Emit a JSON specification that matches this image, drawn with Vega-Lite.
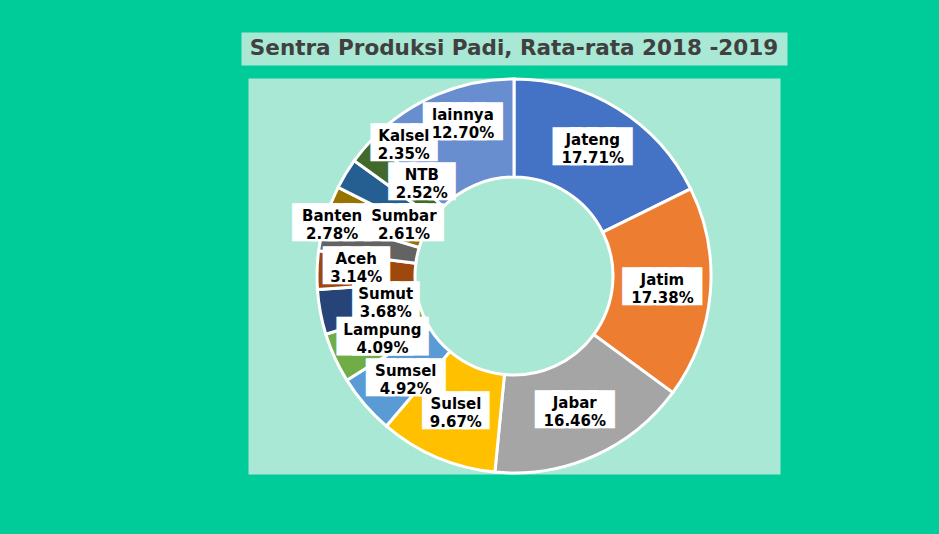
{
  "$schema": "https://vega.github.io/schema/vega-lite/v6.json",
  "background": "#00CC99",
  "padding": {"left": 240, "top": 31, "right": 153, "bottom": 61},
  "spacing": 13,
  "center": true,
  "bounds": "flush",
  "config": {"view": {"stroke": "transparent", "fill": "#A8E8D4"}},
  "vconcat": [
    {
      "width": 546,
      "height": 33,
      "view": {"fill": "#A8E8D4", "stroke": "transparent"},
      "data": {"values": [{"title": "Sentra Produksi Padi, Rata-rata 2018 -2019"}]},
      "mark": {"type": "text", "font": "DejaVu Sans", "fontWeight": "bold", "fontSize": 21.5, "color": "#404040", "baseline": "middle"},
      "encoding": {"text": {"field": "title", "type": "nominal"}}
    },
    {
      "width": 532,
      "height": 396,
      "view": {"fill": "#A8E8D4", "stroke": "transparent"},
      "data": {"values": [
        {"name": "Jateng", "pct": 17.71, "idx": 1, "label": "Jateng\n17.71%"},
        {"name": "Jatim", "pct": 17.38, "idx": 2, "label": "Jatim\n17.38%"},
        {"name": "Jabar", "pct": 16.46, "idx": 3, "label": "Jabar\n16.46%"},
        {"name": "Sulsel", "pct": 9.67, "idx": 4, "label": "Sulsel\n9.67%"},
        {"name": "Sumsel", "pct": 4.92, "idx": 5, "label": "Sumsel\n4.92%"},
        {"name": "Lampung", "pct": 4.09, "idx": 6, "label": "Lampung\n4.09%"},
        {"name": "Sumut", "pct": 3.68, "idx": 7, "label": "Sumut\n3.68%"},
        {"name": "Aceh", "pct": 3.14, "idx": 8, "label": "Aceh\n3.14%"},
        {"name": "Sumbar", "pct": 2.61, "idx": 9, "label": "Sumbar\n2.61%"},
        {"name": "Banten", "pct": 2.78, "idx": 10, "label": "Banten\n2.78%"},
        {"name": "NTB", "pct": 2.52, "idx": 11, "label": "NTB\n2.52%"},
        {"name": "Kalsel", "pct": 2.35, "idx": 12, "label": "Kalsel\n2.35%"},
        {"name": "lainnya", "pct": 12.70, "idx": 13, "label": "lainnya\n12.70%"}
      ]},
      "encoding": {
        "theta": {"field": "pct", "type": "quantitative", "stack": true},
        "order": {"field": "idx", "type": "quantitative"}
      },
      "layer": [
        {
          "mark": {"type": "arc", "outerRadius": 197, "innerRadius": 99, "stroke": "white", "strokeWidth": 3},
          "encoding": {
            "color": {
              "field": "name", "type": "nominal", "legend": null,
              "scale": {
                "domain": ["Jateng", "Jatim", "Jabar", "Sulsel", "Sumsel", "Lampung", "Sumut", "Aceh", "Sumbar", "Banten", "NTB", "Kalsel", "lainnya"],
                "range": ["#4472C4", "#ED7D31", "#A5A5A5", "#FFC000", "#5B9BD5", "#70AD47", "#264478", "#9E480E", "#636363", "#997300", "#255E91", "#43682B", "#698ED0"]
              }
            }
          }
        },
        {
          "mark": {"type": "text", "radius": 149, "dy": -2, "font": "DejaVu Sans", "color": "white", "stroke": "white", "strokeJoin": "miter", "baseline": "middle"},
          "encoding": {
            "text": {"condition": [{"test": "datum.name === 'Sulsel'", "value": "███"}, {"test": "indexof(['Jateng','Jatim','Jabar'], datum.name) >= 0", "value": "████"}], "value": ""},
            "size": {"condition": {"test": "datum.name === 'Sulsel'", "value": 26}, "value": 22},
            "strokeWidth": {"condition": {"test": "datum.name === 'Sulsel'", "value": 7}, "value": 12}
          }
        },
        {
          "mark": {"type": "text", "radius": 160, "thetaOffset": 0.074, "dy": -2, "font": "DejaVu Sans", "fontSize": 22, "color": "white", "stroke": "white", "strokeWidth": 12, "strokeJoin": "miter", "baseline": "middle"},
          "encoding": {"text": {"condition": {"test": "datum.name === 'lainnya'", "value": "████"}, "value": ""}}
        },
        {
          "mark": {"type": "text", "radius": 171, "thetaOffset": 0.172, "dy": -2, "font": "DejaVu Sans", "fontSize": 26, "color": "white", "stroke": "white", "strokeWidth": 7, "strokeJoin": "miter", "baseline": "middle"},
          "encoding": {"text": {"condition": {"test": "datum.name === 'Kalsel'", "value": "███"}, "value": ""}}
        },
        {
          "mark": {"type": "text", "radius": 130, "thetaOffset": 0.236, "dy": -2, "font": "DejaVu Sans", "fontSize": 26, "color": "white", "stroke": "white", "strokeWidth": 7, "strokeJoin": "miter", "baseline": "middle"},
          "encoding": {"text": {"condition": {"test": "datum.name === 'NTB'", "value": "███"}, "value": ""}}
        },
        {
          "mark": {"type": "text", "radius": 189, "thetaOffset": -0.104, "dy": -2, "font": "DejaVu Sans", "fontSize": 22, "color": "white", "stroke": "white", "strokeWidth": 12, "strokeJoin": "miter", "baseline": "middle"},
          "encoding": {"text": {"condition": {"test": "datum.name === 'Banten'", "value": "████"}, "value": ""}}
        },
        {
          "mark": {"type": "text", "radius": 121.5, "thetaOffset": 0.227, "dy": -2, "font": "DejaVu Sans", "fontSize": 22, "color": "white", "stroke": "white", "strokeWidth": 12, "strokeJoin": "miter", "baseline": "middle"},
          "encoding": {"text": {"condition": {"test": "datum.name === 'Sumbar'", "value": "████"}, "value": ""}}
        },
        {
          "mark": {"type": "text", "radius": 158, "thetaOffset": 0.024, "dy": -2, "font": "DejaVu Sans", "fontSize": 26, "color": "white", "stroke": "white", "strokeWidth": 7, "strokeJoin": "miter", "baseline": "middle"},
          "encoding": {"text": {"condition": {"test": "datum.name === 'Aceh'", "value": "███"}, "value": ""}}
        },
        {
          "mark": {"type": "text", "radius": 131, "thetaOffset": -0.02, "dy": -2, "font": "DejaVu Sans", "fontSize": 26, "color": "white", "stroke": "white", "strokeWidth": 7, "strokeJoin": "miter", "baseline": "middle"},
          "encoding": {"text": {"condition": {"test": "datum.name === 'Sumut'", "value": "███"}, "value": ""}}
        },
        {
          "mark": {"type": "text", "radius": 146, "thetaOffset": -0.02, "dy": -2, "font": "DejaVu Sans", "fontSize": 20, "color": "white", "stroke": "white", "strokeWidth": 15, "strokeJoin": "miter", "baseline": "middle"},
          "encoding": {"text": {"condition": {"test": "datum.name === 'Lampung'", "value": "█████"}, "value": ""}}
        },
        {
          "mark": {"type": "text", "radius": 150, "thetaOffset": -0.053, "dy": -2, "font": "DejaVu Sans", "fontSize": 22, "color": "white", "stroke": "white", "strokeWidth": 12, "strokeJoin": "miter", "baseline": "middle"},
          "encoding": {"text": {"condition": {"test": "datum.name === 'Sumsel'", "value": "████"}, "value": ""}}
        },
        {
          "mark": {"type": "text", "radius": 149, "dy": -9, "font": "DejaVu Sans", "fontWeight": "bold", "fontSize": 15, "color": "black", "lineBreak": "\n", "lineHeight": 18, "baseline": "middle"},
          "encoding": {"text": {"condition": {"test": "indexof(['Jateng','Jatim','Jabar','Sulsel'], datum.name) >= 0", "field": "label", "type": "nominal"}, "value": ""}}
        },
        {
          "mark": {"type": "text", "radius": 160, "thetaOffset": 0.074, "dy": -9, "font": "DejaVu Sans", "fontWeight": "bold", "fontSize": 15, "color": "black", "lineBreak": "\n", "lineHeight": 18, "baseline": "middle"},
          "encoding": {"text": {"condition": {"test": "datum.name === 'lainnya'", "field": "label", "type": "nominal"}, "value": ""}}
        },
        {
          "mark": {"type": "text", "radius": 171, "thetaOffset": 0.172, "dy": -9, "font": "DejaVu Sans", "fontWeight": "bold", "fontSize": 15, "color": "black", "lineBreak": "\n", "lineHeight": 18, "baseline": "middle"},
          "encoding": {"text": {"condition": {"test": "datum.name === 'Kalsel'", "field": "label", "type": "nominal"}, "value": ""}}
        },
        {
          "mark": {"type": "text", "radius": 130, "thetaOffset": 0.236, "dy": -9, "font": "DejaVu Sans", "fontWeight": "bold", "fontSize": 15, "color": "black", "lineBreak": "\n", "lineHeight": 18, "baseline": "middle"},
          "encoding": {"text": {"condition": {"test": "datum.name === 'NTB'", "field": "label", "type": "nominal"}, "value": ""}}
        },
        {
          "mark": {"type": "text", "radius": 189, "thetaOffset": -0.104, "dy": -9, "font": "DejaVu Sans", "fontWeight": "bold", "fontSize": 15, "color": "black", "lineBreak": "\n", "lineHeight": 18, "baseline": "middle"},
          "encoding": {"text": {"condition": {"test": "datum.name === 'Banten'", "field": "label", "type": "nominal"}, "value": ""}}
        },
        {
          "mark": {"type": "text", "radius": 121.5, "thetaOffset": 0.227, "dy": -9, "font": "DejaVu Sans", "fontWeight": "bold", "fontSize": 15, "color": "black", "lineBreak": "\n", "lineHeight": 18, "baseline": "middle"},
          "encoding": {"text": {"condition": {"test": "datum.name === 'Sumbar'", "field": "label", "type": "nominal"}, "value": ""}}
        },
        {
          "mark": {"type": "text", "radius": 158, "thetaOffset": 0.024, "dy": -9, "font": "DejaVu Sans", "fontWeight": "bold", "fontSize": 15, "color": "black", "lineBreak": "\n", "lineHeight": 18, "baseline": "middle"},
          "encoding": {"text": {"condition": {"test": "datum.name === 'Aceh'", "field": "label", "type": "nominal"}, "value": ""}}
        },
        {
          "mark": {"type": "text", "radius": 131, "thetaOffset": -0.02, "dy": -9, "font": "DejaVu Sans", "fontWeight": "bold", "fontSize": 15, "color": "black", "lineBreak": "\n", "lineHeight": 18, "baseline": "middle"},
          "encoding": {"text": {"condition": {"test": "datum.name === 'Sumut'", "field": "label", "type": "nominal"}, "value": ""}}
        },
        {
          "mark": {"type": "text", "radius": 146, "thetaOffset": -0.02, "dy": -9, "font": "DejaVu Sans", "fontWeight": "bold", "fontSize": 15, "color": "black", "lineBreak": "\n", "lineHeight": 18, "baseline": "middle"},
          "encoding": {"text": {"condition": {"test": "datum.name === 'Lampung'", "field": "label", "type": "nominal"}, "value": ""}}
        },
        {
          "mark": {"type": "text", "radius": 150, "thetaOffset": -0.053, "dy": -9, "font": "DejaVu Sans", "fontWeight": "bold", "fontSize": 15, "color": "black", "lineBreak": "\n", "lineHeight": 18, "baseline": "middle"},
          "encoding": {"text": {"condition": {"test": "datum.name === 'Sumsel'", "field": "label", "type": "nominal"}, "value": ""}}
        }
      ]
    }
  ]
}
